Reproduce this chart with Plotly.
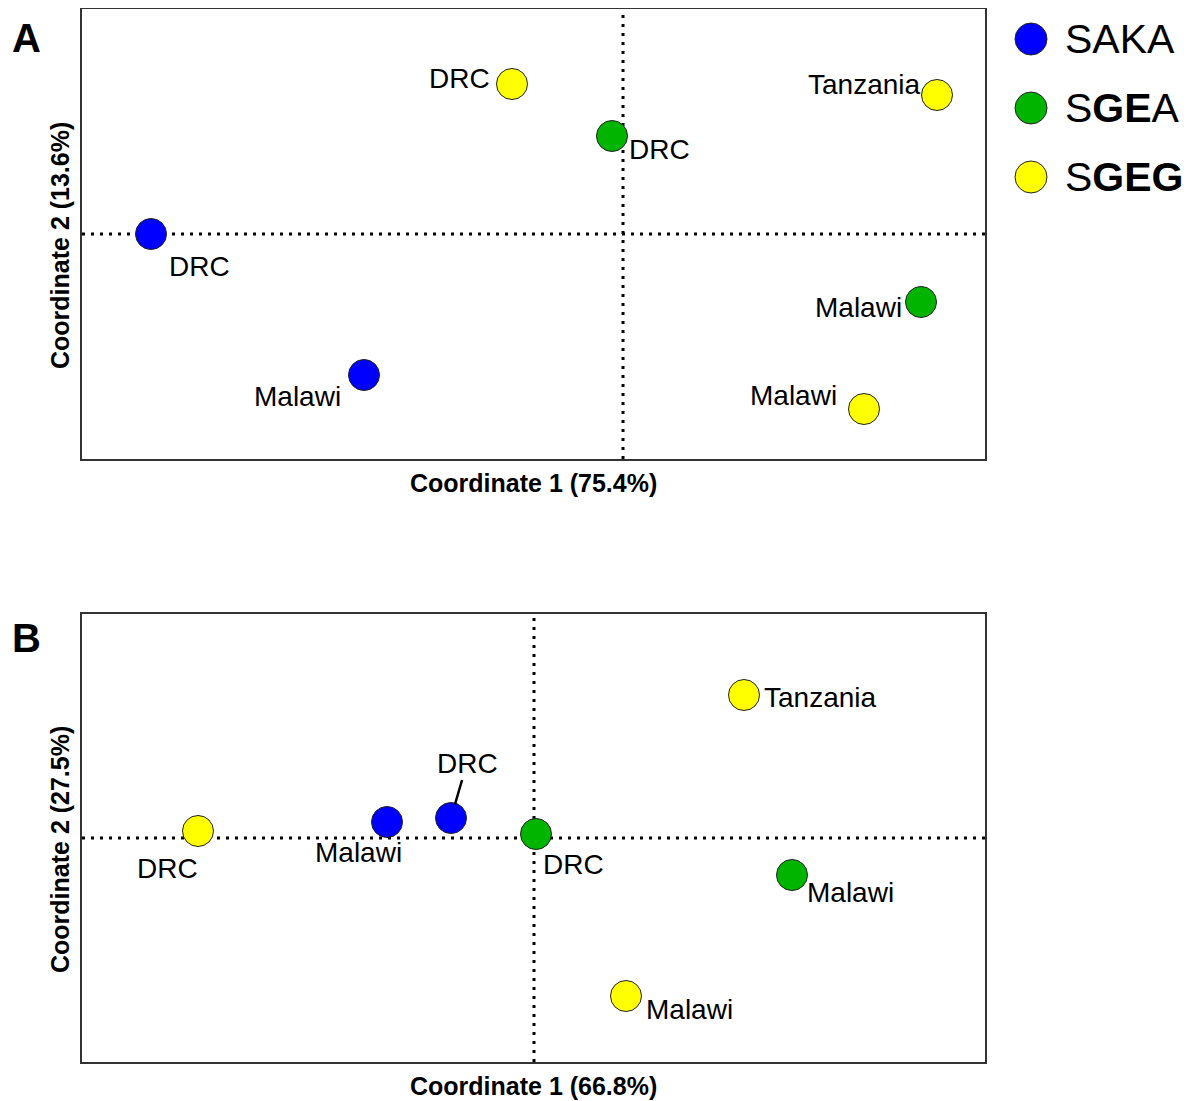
import plotly.graph_objects as go

# ---------------- data ----------------
groups = ["SAKA", "SGEA", "SGEG"]
group_labels = ["SAKA", "S<b>GE</b>A", "S<b>GEG</b>"]
group_colors = ["#0000FF", "#00B400", "#FFFF00"]

# Panel A (Coordinate 1 75.4%, Coordinate 2 13.6%)
a_group = ["SAKA", "SAKA", "SGEA", "SGEA", "SGEG", "SGEG", "SGEG"]
a_country = ["DRC", "Malawi", "DRC", "Malawi", "DRC", "Tanzania", "Malawi"]
a_x = [-4.72, -2.59, -0.11, 2.98, -1.11, 3.14, 2.41]
a_y = [0.00, -1.41, 0.98, -0.68, 1.50, 1.39, -1.75]

# Panel B (Coordinate 1 66.8%, Coordinate 2 27.5%)
b_group = ["SAKA", "SAKA", "SGEA", "SGEA", "SGEG", "SGEG", "SGEG"]
b_country = ["Malawi", "DRC", "DRC", "Malawi", "DRC", "Tanzania", "Malawi"]
b_x = [-1.47, -0.83, 0.02, 2.58, -3.36, 2.10, 0.92]
b_y = [0.16, 0.20, 0.04, -0.37, 0.07, 1.43, -1.58]

a_xtitle, a_ytitle = "Coordinate 1 (75.4%)", "Coordinate 2 (13.6%)"
b_xtitle, b_ytitle = "Coordinate 1 (66.8%)", "Coordinate 2 (27.5%)"

# ---------------- style / layout ----------------
OFF = 8  # page body margin
W, H = 1194 - OFF, 1101 - OFF
FONT = "Liberation Sans, Arial, sans-serif"
a_ranges = ([-5.41, 3.62], [-2.25, 2.25])
b_ranges = ([-4.52, 4.51], [-2.24, 2.24])
# label offsets in pixels (dx right, dy down)
a_off = [(48, 32), (-67, 21), (47, 13), (-63, 5), (-53, -6), (-73, -11), (-71, -14)]
b_off = [(-29, 30), (16, -55), (37, 30), (58, 17), (-31, 37), (76, 2), (63, 13)]
b_leader = [False, True, False, False, False, False, False]
DOT = dict(color="black", width=3, dash="3px,6px")


def px(p):
    return (p - OFF) / W


def py(p):
    return 1 - (p - OFF) / H


xdom = [px(82), px(985)]
a_ydom = [py(459), py(9)]
b_ydom = [py(1062), py(614)]

fig = go.Figure()
annotations = []
shapes = []

panels = [
    ("x", "y", a_group, a_country, a_x, a_y, a_off, [False] * 7, a_ranges, a_xtitle, a_ytitle, "A", 38),
    ("x2", "y2", b_group, b_country, b_x, b_y, b_off, b_leader, b_ranges, b_xtitle, b_ytitle, "B", 638),
]

for xr, yr, grp, ctry, xs, ys, offs, leader, ranges, xt, yt, letter, ly in panels:
    # zero lines (drawn below markers)
    shapes.append(dict(type="line", xref=xr, yref=f"{yr} domain", x0=0, x1=0, y0=0, y1=1,
                       layer="below", line=DOT))
    shapes.append(dict(type="line", xref=f"{xr} domain", yref=yr, x0=0, x1=1, y0=0, y1=0,
                       layer="below", line=DOT))
    for g, col in zip(groups, group_colors):
        idx = [i for i, gg in enumerate(grp) if gg == g]
        fig.add_trace(go.Scatter(
            x=[xs[i] for i in idx], y=[ys[i] for i in idx],
            mode="markers", xaxis=xr, yaxis=yr, showlegend=False,
            marker=dict(size=31, color=col, line=dict(color="#222222", width=1)),
            hoverinfo="skip"))
    for i in range(len(xs)):
        dx, dy = offs[i]
        if leader[i]:
            annotations.append(dict(
                x=xs[i], y=ys[i], xref=xr, yref=yr, text=ctry[i],
                showarrow=True, arrowhead=0, arrowwidth=2.5, arrowcolor="black",
                ax=dx, ay=dy, standoff=14,
                font=dict(family=FONT, size=28, color="black")))
        else:
            annotations.append(dict(
                x=xs[i], y=ys[i], xref=xr, yref=yr, text=ctry[i],
                showarrow=False, xshift=dx, yshift=-dy,
                font=dict(family=FONT, size=28, color="black")))
    # axis titles
    annotations.append(dict(x=0.5, y=0, xref=f"{xr} domain", yref=f"{yr} domain",
                            text=f"<b>{xt}</b>", showarrow=False, yanchor="top", yshift=-8,
                            font=dict(family=FONT, size=25, color="black")))
    annotations.append(dict(x=0, y=0.5, xref=f"{xr} domain", yref=f"{yr} domain",
                            text=f"<b>{yt}</b>", showarrow=False, textangle=-90,
                            xanchor="center", xshift=-22, yshift=-12,
                            font=dict(family=FONT, size=25, color="black")))
    # panel letter
    annotations.append(dict(x=px(26), y=py(ly), xref="paper", yref="paper",
                            text=f"<b>{letter}</b>", showarrow=False,
                            xanchor="center", yanchor="middle",
                            font=dict(family=FONT, size=40, color="black")))

# legend (manual)
leg_y = [39, 108, 177]
for lab, col, ly in zip(group_labels, group_colors, leg_y):
    shapes.append(dict(type="circle", xref="paper", yref="paper",
                       xsizemode="pixel", ysizemode="pixel",
                       xanchor=px(1031), yanchor=py(ly),
                       x0=-16, x1=16, y0=-16, y1=16,
                       fillcolor=col, line=dict(color="#222222", width=1)))
    annotations.append(dict(x=px(1063), y=py(ly), xref="paper", yref="paper",
                            text=lab, showarrow=False, xanchor="left", yanchor="middle",
                            font=dict(family=FONT, size=41, color="black")))

axis_common = dict(showticklabels=False, ticks="", showgrid=False, zeroline=False,
                   showline=True, mirror=True, linecolor="#333333", linewidth=2)

fig.update_layout(
    width=W, height=H, margin=dict(l=0, r=0, t=0, b=0),
    paper_bgcolor="white", plot_bgcolor="white",
    xaxis=dict(domain=xdom, range=a_ranges[0], anchor="y", **axis_common),
    yaxis=dict(domain=a_ydom, range=a_ranges[1], anchor="x", **axis_common),
    xaxis2=dict(domain=xdom, range=b_ranges[0], anchor="y2", **axis_common),
    yaxis2=dict(domain=b_ydom, range=b_ranges[1], anchor="x2", **axis_common),
    annotations=annotations, shapes=shapes, showlegend=False,
)

fig.write_html("out.html")
